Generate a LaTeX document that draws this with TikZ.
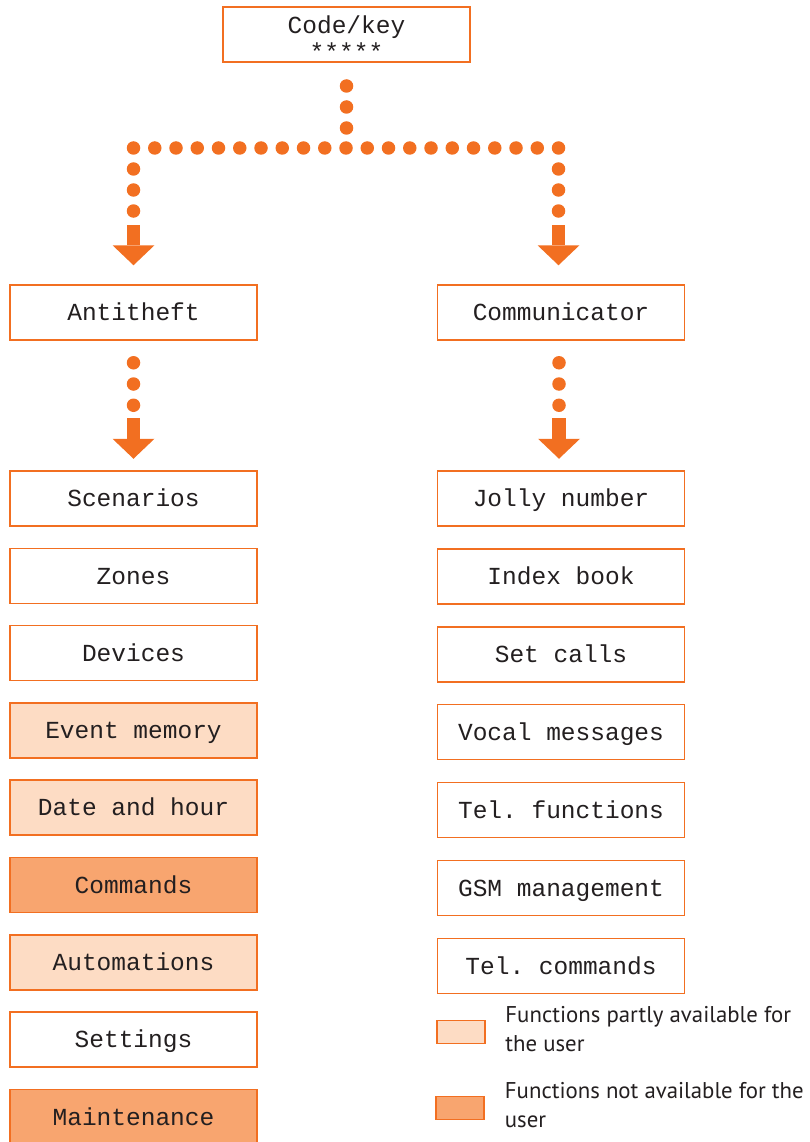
\documentclass[tikz,border=0pt]{standalone}
\usepackage{fontspec}
\setmonofont{Liberation Mono}
\setsansfont{PT Sans}
\usepackage{tikz}
\usetikzlibrary{arrows.meta, calc, positioning}
\definecolor{orng}{HTML}{F26F21}
\definecolor{partfill}{HTML}{FDDCC4}
\definecolor{lockfill}{HTML}{F8A56F}
\definecolor{ink}{HTML}{231F20}

\begin{document}
\begin{tikzpicture}[x=1pt, y=1pt, text=ink,
  font=\ttfamily\fontsize{24.5}{25}\selectfont,
  box/.style={draw=orng, line width=1.5pt, fill=white, minimum width=247pt, minimum height=55pt, inner sep=0pt, text height=20pt, text depth=3.6pt},
  partbox/.style={box, fill=partfill},
  lockbox/.style={box, fill=lockfill},
  dotline/.style={draw=orng, line width=13.5pt, line cap=round, dash pattern=on 0pt off #1},
  dotline/.default=21.25pt,
  blockarrow/.style={draw=orng, line width=13.5pt, -{Triangle[length=20pt, width=42pt, line width=0pt]}},
  keybox/.style={draw=orng, line width=1.5pt, minimum width=48pt, minimum height=23pt, inner sep=0pt},
  keytext/.style={font=\sffamily\fontsize{22.8}{28.3}\selectfont, align=left, inner sep=0pt}]
\useasboundingbox (0,0) rectangle (810,-1142);

\node[draw=orng, line width=1.5pt, minimum width=247pt, minimum height=55pt, inner sep=0pt, align=center] (code) at (346.5,-34.5) {\rule{0pt}{26pt}Code/key\\[2pt]*****};
\node[box] (anti) at (133.5,-312.5) {Antitheft};
\node[box] (comm) at (561,-312.5) {Communicator};

\node[box] (scen) at (133.5,-498.5) {Scenarios};
\node[box, below=20.8pt of scen] (zones) {Zones};
\node[box, below=20.8pt of zones] (devs) {Devices};
\node[partbox, below=20.8pt of devs] (evmem) {Event memory};
\node[partbox, below=20.8pt of evmem] (date) {Date and hour};
\node[lockbox, below=20.8pt of date] (cmds) {Commands};
\node[partbox, below=20.8pt of cmds] (auto) {Automations};
\node[box, below=20.8pt of auto] (sets) {Settings};
\node[lockbox, below=20.8pt of sets] (maint) {Maintenance};

\node[box] (jolly) at (561,-498.5) {Jolly number};
\node[box, below=21.4pt of jolly] (index) {Index book};
\node[box, below=21.4pt of index] (calls) {Set calls};
\node[box, below=21.4pt of calls] (vocal) {Vocal messages};
\node[box, below=21.4pt of vocal] (telf) {Tel. functions};
\node[box, below=21.4pt of telf] (gsm) {GSM management};
\node[box, below=21.4pt of gsm] (telc) {Tel. commands};

\node[keybox, fill=partfill] (keypart) at (461,-1032) {};
\node[keybox, fill=lockfill] (keylock) at (460,-1108) {};
\node[keytext, right=19.5pt of keypart, yshift=3pt] (txtpart) {Functions partly available for\\the user};
\node[keytext, right=20pt of keylock, yshift=3pt] (txtlock) {Functions not available for the\\user};

\coordinate (split) at (code.south |- 0,-148);
\coordinate (lft) at (anti.north |- split);
\coordinate (rgt) at ([xshift=-2.5pt]comm.north |- split);

\draw[dotline=21pt] ([yshift=62pt]split) -- ([yshift=19.5pt]split);
\draw[dotline] (lft) -- ([xshift=0.5pt]rgt);
\draw[dotline=21pt] ([yshift=-21pt]lft) -- ([yshift=-63.5pt]lft);
\draw[dotline=21pt] ([yshift=-21pt]rgt) -- ([yshift=-63.5pt]rgt);
\draw[blockarrow] ([yshift=59pt]anti.north) -- ([yshift=19pt]anti.north);
\draw[blockarrow] ([xshift=-2.5pt,yshift=59pt]comm.north) -- ([xshift=-2.5pt,yshift=19pt]comm.north);

\draw[dotline] ([yshift=-22pt]anti.south) -- ([yshift=-64.5pt]anti.south);
\draw[dotline] ([xshift=-2pt,yshift=-22pt]comm.south) -- ([xshift=-2pt,yshift=-64.5pt]comm.south);
\draw[blockarrow] ([yshift=52pt]scen.north) -- ([yshift=11.5pt]scen.north);
\draw[blockarrow] ([xshift=-2pt,yshift=52pt]jolly.north) -- ([xshift=-2pt,yshift=11.5pt]jolly.north);
\end{tikzpicture}
\end{document}
